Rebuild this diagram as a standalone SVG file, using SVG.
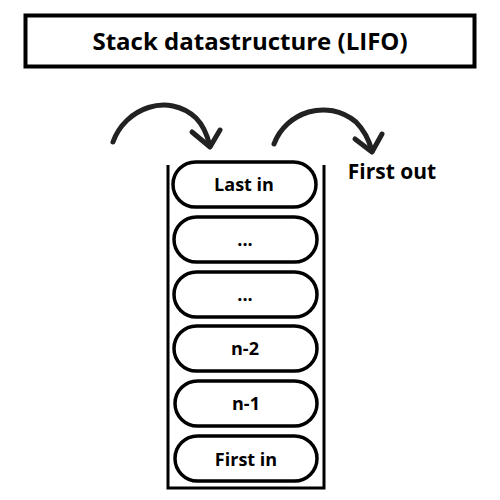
<svg xmlns="http://www.w3.org/2000/svg" width="500" height="500" viewBox="0 0 500 500">
<style>
.t{font-family:"Open Sans","Liberation Sans",sans-serif;font-weight:bold;fill:#000;text-anchor:middle}
.pill{fill:#fff;stroke:#000;stroke-width:3.5}
.arr{fill:none;stroke:#222;stroke-width:5;stroke-linecap:round;stroke-linejoin:round}
</style>
<rect width="500" height="500" fill="#fff"/>
<g id="title">
<rect x="25.5" y="15.5" width="449" height="51" fill="#fff" stroke="#000" stroke-width="4"/>
<text class="t" x="250" y="50" font-size="24">Stack datastructure (LIFO)</text>
</g>
<g id="stack">
<path d="M168 165 V488 H324 V165" fill="none" stroke="#000" stroke-width="3"/>
</g>
<g id="n1"><rect class="pill" x="173" y="162" width="143" height="45" rx="22.5"/><text class="t" x="244" y="191" font-size="18">Last in</text></g>
<g id="n2"><rect class="pill" x="174" y="217" width="143" height="45" rx="22.5"/><text class="t" x="245" y="246" font-size="18">...</text></g>
<g id="n3"><rect class="pill" x="174" y="272" width="143" height="45" rx="22.5"/><text class="t" x="245" y="301" font-size="18">...</text></g>
<g id="n4"><rect class="pill" x="174" y="326" width="143" height="45" rx="22.5"/><text class="t" x="245" y="355" font-size="18">n-2</text></g>
<g id="n5"><rect class="pill" x="175" y="381" width="142" height="45" rx="22.5"/><text class="t" x="246" y="410" font-size="18">n-1</text></g>
<g id="n6"><rect class="pill" x="175" y="436" width="142" height="45" rx="22.5"/><text class="t" x="246" y="466" font-size="18">First in</text></g>
<g id="connectors">
<path class="arr" d="M113 142 C125 108 168 92 196 118 C203 125 207 134 210 146"/>
<path class="arr" d="M192 132 L210 147 L220 130"/>
<path class="arr" d="M274 144 C286 112 327 98 356 122 C364 130 369 140 372 151"/>
<path class="arr" d="M355 139 L372 152 L382 134"/>
</g>
<g id="label"><text class="t" x="392" y="179" font-size="21">First out</text></g>
</svg>
